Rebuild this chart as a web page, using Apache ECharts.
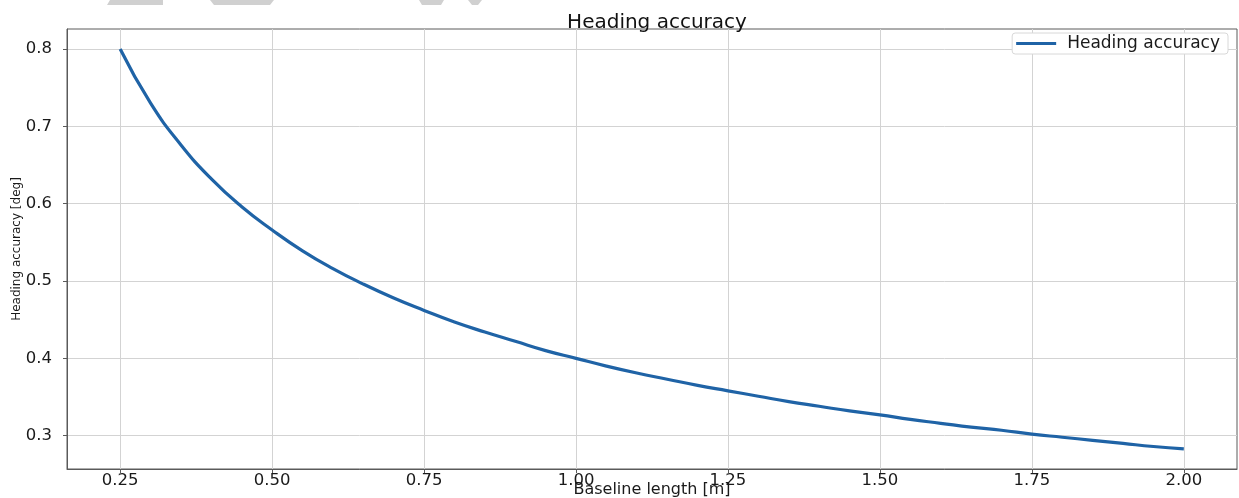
<!DOCTYPE html>
<html>
<head>
<meta charset="utf-8">
<title>Heading accuracy</title>
<script src="https://cdn.jsdelivr.net/npm/echarts@6/dist/echarts.min.js"></script>
<style>
  html, body { margin: 0; padding: 0; background: #fff; }
  #chart { width: 1239px; height: 498px; }
</style>
</head>
<body>
<div id="chart"></div>
<script>
// baseline length [m] and heading accuracy [deg]
const baseline = [0.25, 0.30, 0.35, 0.40, 0.45, 0.50, 0.55, 0.60, 0.65, 0.70,
  0.75, 0.80, 0.85, 0.90, 0.95, 1.00, 1.05, 1.10, 1.15, 1.20,
  1.25, 1.30, 1.35, 1.40, 1.45, 1.50, 1.55, 1.60, 1.65, 1.70,
  1.75, 1.80, 1.85, 1.90, 1.95, 2.00]
const accuracy = [0.800, 0.730, 0.676, 0.632, 0.596, 0.566, 0.539, 0.516, 0.496, 0.478,
  0.462, 0.447, 0.434, 0.422, 0.410, 0.400, 0.390, 0.381, 0.373, 0.365,
  0.358, 0.351, 0.344, 0.338, 0.332, 0.327, 0.321, 0.316, 0.311, 0.307,
  0.302, 0.298, 0.294, 0.290, 0.286, 0.283]

const xTicks = [0.25, 0.50, 0.75, 1.00, 1.25, 1.50, 1.75, 2.00]
const yTicks = [0.3, 0.4, 0.5, 0.6, 0.7, 0.8]

const seriesName = 'Heading accuracy'

let font = 'DejaVu Sans'
let lineColor = '#1f63a6'
let spineColor = '#5a5a5a'
let gridColor = '#d3d3d3'

let chart = echarts.init(document.getElementById('chart'), null, { renderer: 'canvas' })

function axisCommon(ticks, digits, margin) {
  return {
    axisLine: { show: true, lineStyle: { color: spineColor, width: 1 } },
    axisTick: { show: true, inside: false, length: 4, customValues: ticks, lineStyle: { color: spineColor } },
    axisLabel: {
      customValues: ticks,
      margin: margin,
      color: '#1a1a1a',
      fontFamily: font,
      fontSize: 16.5,
      formatter: v => Number(v).toFixed(digits)
    },
    splitLine: { show: true, lineStyle: { color: gridColor, width: 1 } }
  }
}

let option = {
  animation: false,
  title: {
    text: 'Heading accuracy',
    left: 652,
    top: 8,
    textAlign: 'center',
    textStyle: { fontFamily: font, fontSize: 20, fontWeight: 'normal', color: '#111' }
  },
  legend: {
    data: [{ name: seriesName, icon: 'rect' }],
    right: 11,
    top: 33,
    padding: [2, 8, 2, 4],
    itemWidth: 40,
    itemHeight: 3,
    borderColor: '#d8d8d8',
    borderWidth: 1,
    borderRadius: 3,
    backgroundColor: '#fff',
    textStyle: { fontFamily: font, fontSize: 17, color: '#1a1a1a', padding: [0, 0, 0, 6] }
  },
  grid: {
    left: 67,
    right: 2,
    top: 29,
    bottom: 29,
    show: true,
    borderColor: spineColor,
    borderWidth: 1,
    outerBoundsMode: 'none'
  },
  xAxis: Object.assign({
    type: 'value',
    min: 0.1625,
    max: 2.0875,
    name: 'Baseline length [m]',
    nameLocation: 'middle',
    nameGap: 13,
    nameMoveOverlap: false,
    nameTextStyle: { fontFamily: font, fontSize: 16, color: '#1a1a1a' }
  }, axisCommon(xTicks, 2, 3)),
  yAxis: Object.assign({
    type: 'value',
    min: 0.2569,
    max: 0.8259,
    name: 'Heading accuracy [deg]',
    nameLocation: 'middle',
    nameGap: 44,
    nameMoveOverlap: false,
    nameTextStyle: { fontFamily: font, fontSize: 12, color: '#1a1a1a' }
  }, axisCommon(yTicks, 1, 15)),
  graphic: [
    { type: 'polygon', shape: { points: [[110, 0], [163, 0], [163, 5], [107, 5]] }, style: { fill: '#d0d0d0' }, silent: true },
    { type: 'polygon', shape: { points: [[210, 0], [274, 0], [270, 5], [214, 5]] }, style: { fill: '#d0d0d0' }, silent: true },
    { type: 'polygon', shape: { points: [[419, 0], [444, 0], [441, 5], [422, 5]] }, style: { fill: '#d0d0d0' }, silent: true },
    { type: 'polygon', shape: { points: [[468, 0], [482, 0], [478, 5], [472, 5]] }, style: { fill: '#d0d0d0' }, silent: true }
  ],
  series: [
    {
      name: seriesName,
      type: 'line',
      data: baseline.map((x, i) => [x, accuracy[i]]),
      symbol: 'none',
      smooth: true,
      lineStyle: { color: lineColor, width: 3.2 },
      itemStyle: { color: lineColor }
    }
  ]
}

chart.setOption(option)
</script>
</body>
</html>
